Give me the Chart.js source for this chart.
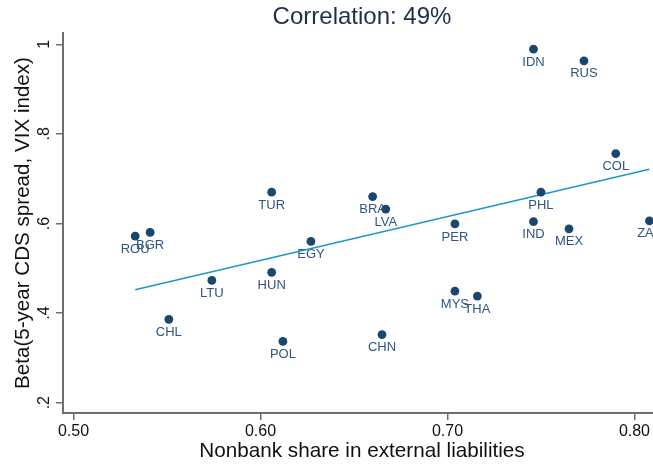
<!DOCTYPE html>
<html>
<head>
<meta charset="utf-8">
<script src="https://cdn.jsdelivr.net/npm/chart.js@4"></script>
<style>
  html, body { margin: 0; padding: 0; background: #fff; overflow: hidden; }
  #wrap { position: absolute; left: 0; top: 0; width: 661px; height: 465px; }
</style>
</head>
<body>
<div id="wrap"><canvas id="chart" width="661" height="465"></canvas></div>
<script>
// country codes and values
const countries = ['IDN', 'RUS', 'COL', 'PHL', 'BRA', 'LVA', 'PER', 'IND', 'MEX', 'ZAF', 'TUR',
                   'ROU', 'BGR', 'EGY', 'LTU', 'HUN', 'CHL', 'POL', 'MYS', 'THA', 'CHN'];
const nonbankShare = [0.746, 0.773, 0.790, 0.750, 0.660, 0.667, 0.704, 0.746, 0.765, 0.808, 0.606,
                      0.533, 0.541, 0.627, 0.574, 0.606, 0.551, 0.612, 0.704, 0.716, 0.665];
const betaVix = [0.989, 0.963, 0.756, 0.670, 0.660, 0.632, 0.599, 0.604, 0.588, 0.606, 0.670,
                 0.572, 0.580, 0.560, 0.473, 0.491, 0.386, 0.337, 0.449, 0.438, 0.352];

// fitted line end points
const fitX = [0.533, 0.808];
const fitY = [0.452, 0.721];

const xTicks = [0.5, 0.6, 0.7, 0.8];
const yTicks = [0.2, 0.4, 0.6, 0.8, 1.0];
const yTickLabels = ['.2', '.4', '.6', '.8', '1'];

const FONT = '"Liberation Sans", Arial, Helvetica, sans-serif';
const AXIS = '#6e6e6e';

const pointLabels = {
    id: 'pointLabels',
    beforeDatasetsDraw(chart) {
        const ctx = chart.ctx;
        const meta = chart.getDatasetMeta(0);
        ctx.save();
        ctx.font = '13px ' + FONT;
        ctx.fillStyle = '#2f5583';
        ctx.textAlign = 'center';
        ctx.textBaseline = 'middle';
        meta.data.forEach((el, i) => {
            ctx.fillText(countries[i], el.x, el.y + 13);
        });
        ctx.restore();
    }
};

// stata style y tick labels, turned upright
const yLabels = {
    id: 'yLabels',
    afterDraw(chart) {
        const ctx = chart.ctx;
        const y = chart.scales.y;
        ctx.save();
        ctx.font = '16px ' + FONT;
        ctx.fillStyle = '#111';
        ctx.textAlign = 'center';
        ctx.textBaseline = 'middle';
        yTicks.forEach((v, i) => {
            ctx.save();
            ctx.translate(44.5, y.getPixelForValue(v));
            ctx.rotate(-Math.PI / 2);
            ctx.fillText(yTickLabels[i], 0, 0);
            ctx.restore();
        });
        ctx.restore();
    }
};

new Chart(document.getElementById('chart').getContext('2d'), {
    type: 'scatter',
    data: {
        datasets: [{
            label: 'Beta',
            data: nonbankShare.map((x, i) => ({ x: x, y: betaVix[i] })),
            backgroundColor: '#1a476f',
            borderColor: '#1a476f',
            pointRadius: 4.4,
            pointBorderWidth: 0
        }, {
            type: 'line',
            label: 'Fit',
            data: fitX.map((x, i) => ({ x: x, y: fitY[i] })),
            borderColor: '#1f96cc',
            borderWidth: 1.6,
            pointRadius: 0,
            fill: false
        }]
    },
    options: {
        responsive: false,
        animation: false,
        layout: { padding: 0, autoPadding: false },
        plugins: {
            legend: { display: false },
            tooltip: { enabled: false },
            title: {
                display: true,
                text: 'Correlation: 49%',
                fullSize: false,
                color: '#1f2d4d',
                font: { family: FONT, size: 24, weight: 'normal' },
                padding: { top: 3, bottom: 1.2 }
            }
        },
        scales: {
            x: {
                type: 'linear',
                min: 0.4944,
                max: 0.8142,
                afterFit: s => { s.height = 52; s.paddingLeft = 0; s.paddingRight = 0; },
                afterBuildTicks: s => { s.ticks = xTicks.map(v => ({ value: v })); },
                border: { color: AXIS, width: 2 },
                grid: { drawOnChartArea: false, color: AXIS, tickLength: 7, lineWidth: 1.5 },
                ticks: {
                    color: '#111',
                    padding: 2,
                    maxRotation: 0,
                    font: { family: FONT, size: 16 },
                    callback: v => v.toFixed(2)
                },
                title: {
                    display: true,
                    text: 'Nonbank share in external liabilities',
                    color: '#111',
                    font: { family: FONT, size: 20.7 },
                    padding: { top: 0, bottom: 1 }
                }
            },
            y: {
                type: 'linear',
                min: 0.177,
                max: 1.0252,
                afterFit: s => { s.width = 63; s.paddingTop = 0; s.paddingBottom = 0; },
                afterBuildTicks: s => { s.ticks = yTicks.map(v => ({ value: v })); },
                border: { color: AXIS, width: 2 },
                grid: { drawOnChartArea: false, color: AXIS, tickLength: 7, lineWidth: 1.5 },
                ticks: { display: false },
                title: {
                    display: true,
                    text: 'Beta(5-year CDS spread, VIX index)',
                    color: '#111',
                    font: { family: FONT, size: 20.6 },
                    padding: { top: 11, bottom: 0 }
                }
            }
        }
    },
    plugins: [pointLabels, yLabels]
});
</script>
</body>
</html>
